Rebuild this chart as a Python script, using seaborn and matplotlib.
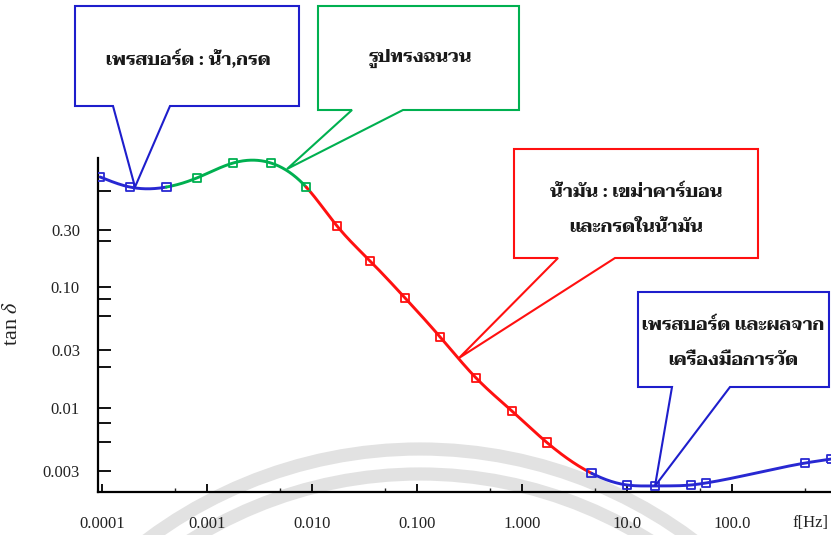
import numpy as np
import pandas as pd
import matplotlib
matplotlib.use("Agg")
import matplotlib.pyplot as plt
import seaborn as sns
from matplotlib.patches import Polygon, Circle
from matplotlib.transforms import Affine2D

# ---- data: dissipation factor versus frequency ----
freq_hz = [0.96e-4, 1.85e-4, 4.1e-4, 8.0e-4, 1.77e-3, 4.07e-3, 8.8e-3,
           0.0173, 0.0357, 0.077, 0.166, 0.365, 0.80, 1.73,
           4.6, 10.0, 18.5, 40.7, 56.5, 495.0, 880.0]
tan_delta = [0.815, 0.673, 0.673, 0.80, 1.063, 1.063, 0.673,
             0.321, 0.165, 0.0815, 0.0388, 0.0178, 0.0095, 0.0052,
             0.0029, 0.00232, 0.00228, 0.00232, 0.00241, 0.00352, 0.0038]
# region of each measured point
region = (["pressboard_low"] * 3 + ["geometry"] * 4 + ["oil"] * 7
          + ["pressboard_high"] * 7)

x_tick_values = [1e-4, 1e-3, 1e-2, 1e-1, 1.0, 10.0, 100.0]
x_tick_labels = ["0.0001", "0.001", "0.010", "0.100", "1.000", "10.0", "100.0"]
x_minor_values = [5e-4, 5e-3, 5e-2, 0.5, 5.0, 50.0, 500.0]
y_tick_values = [0.3, 0.1, 0.03, 0.01, 0.003]
y_tick_labels = ["0.30", "0.10", "0.03", "0.01", "0.003"]
y_minor_values = [0.62, 0.24, 0.08, 0.058, 0.022, 0.0076, 0.0053]

callout_texts = {
    "pressboard_low": ["เพรสบอร์ด : น้ำ,กรด"],
    "geometry": ["รูปทรงฉนวน"],
    "oil": ["น้ำมัน : เขม่าคาร์บอน", "และกรดในน้ำมัน"],
    "pressboard_high": ["เพรสบอร์ด และผลจาก", "เครื่องมือการวัด"],
}

BLUE = "#2828D2"
BOX_BLUE = "#1E1ECC"
GREEN = "#00B050"
RED = "#FF1010"
colors = {"pressboard_low": BLUE, "geometry": GREEN, "oil": RED,
          "pressboard_high": BLUE}

df = pd.DataFrame({"f": freq_hz, "tan": tan_delta, "region": region})

sns.set_style("ticks")
plt.rcParams["font.family"] = ["Liberation Serif", "DejaVu Serif"]
plt.rcParams["mathtext.fontset"] = "stix"

W, H = 831, 535
fig = plt.figure(figsize=(W / 100, H / 100), dpi=100)
fig.patch.set_facecolor("white")
px = Affine2D().scale(1 / W, -1 / H).translate(0, 1) + fig.transFigure

ax = fig.add_axes([98 / W, (H - 492) / H, (W - 98) / W, (492 - 158) / H])
ax.patch.set_alpha(0)
ax.set_xscale("log")
ax.set_yscale("log")
ax.set_xlim(9.16e-5, 877)
ax.set_ylim(0.00203, 1.17)


def natural_spline(xk, yk, xs):
    n = len(xk)
    h = np.diff(xk)
    A = np.zeros((n, n))
    r = np.zeros(n)
    A[0, 0] = A[-1, -1] = 1.0
    for i in range(1, n - 1):
        A[i, i - 1] = h[i - 1]
        A[i, i] = 2 * (h[i - 1] + h[i])
        A[i, i + 1] = h[i]
        r[i] = 6 * ((yk[i + 1] - yk[i]) / h[i] - (yk[i] - yk[i - 1]) / h[i - 1])
    M = np.linalg.solve(A, r)
    idx = np.clip(np.searchsorted(xk, xs) - 1, 0, n - 2)
    x0, x1 = xk[idx], xk[idx + 1]
    hh = x1 - x0
    t0, t1 = x1 - xs, xs - x0
    return (M[idx] * t0 ** 3 / (6 * hh) + M[idx + 1] * t1 ** 3 / (6 * hh)
            + (yk[idx] / hh - M[idx] * hh / 6) * t0
            + (yk[idx + 1] / hh - M[idx + 1] * hh / 6) * t1)


lx = np.log10(df["f"].to_numpy())
ly = np.log10(df["tan"].to_numpy())

# smooth curve, split into coloured stretches between region boundaries
segments = [(0, 2, BLUE), (2, 6, GREEN), (6, 14, RED), (14, 20, BLUE)]
for i0, i1, col in segments:
    xs = np.linspace(lx[i0], lx[i1], 200)
    ys = natural_spline(lx, ly, xs)
    sns.lineplot(x=10 ** xs, y=10 ** ys, color=col, linewidth=2.1,
                 estimator=None, sort=False, ax=ax, zorder=3)

for name, grp in df.groupby("region", sort=False):
    c = colors[name]
    sns.scatterplot(data=grp, x="f", y="tan", marker="s", s=36,
                    color=c, facecolor="none", edgecolor=c, linewidth=1.3,
                    ax=ax, zorder=4, clip_on=True, legend=False)

# axes styling
sns.despine(ax=ax)
for side in ("left", "bottom"):
    ax.spines[side].set_linewidth(1.6)
    ax.spines[side].set_color("black")

ax.set_xticks(x_tick_values)
ax.set_xticklabels(x_tick_labels)
ax.set_xticks(x_minor_values, minor=True)
ax.xaxis.set_minor_formatter(matplotlib.ticker.NullFormatter())
ax.set_yticks(y_tick_values)
ax.set_yticklabels(y_tick_labels)
ax.set_yticks(y_minor_values, minor=True)
ax.yaxis.set_minor_formatter(matplotlib.ticker.NullFormatter())

ax.tick_params(axis="x", which="major", direction="in", length=6, width=1.3,
               pad=17, labelsize=12, colors="black", bottom=True)
ax.tick_params(axis="x", which="minor", direction="in", length=3, width=1.0,
               bottom=True)
ax.tick_params(axis="y", which="both", direction="in", length=9, width=1.3,
               pad=13, labelsize=12, colors="black", left=True)
for lab in ax.get_xticklabels() + ax.get_yticklabels():
    lab.set_color("#222222")

ax.set_xlabel("")
ax.set_ylabel("tan $\\delta$", fontsize=16, color="#222222")
ax.yaxis.set_label_coords(-0.104, 0.505)

fig.text(810, 523, "f[Hz]", transform=px, ha="center", va="center",
         fontsize=12, color="#222222")

# faint emblem arcs in the background
for r in (456, 431):
    fig.add_artist(Circle((420, 905), r, transform=px, fill=False,
                          edgecolor="#e2e2e2", linewidth=9.5, zorder=-5))


# speech-bubble callouts
def callout(L, T, R, B, b1, b2, tip, col, lines, baselines, cx):
    verts = [(L, T), (R, T), (R, B), (b2, B), tip, (b1, B), (L, B)]
    fig.add_artist(Polygon(verts, closed=True, transform=px, facecolor="white",
                           edgecolor=col, linewidth=1.5, zorder=10))
    for txt, yb in zip(lines, baselines):
        fig.text(cx, yb, txt, transform=px, ha="center", va="baseline",
                 fontsize=13, fontweight="bold", color="#1a1a1a",
                 family=["Taviraj", "Noto Serif Thai", "DejaVu Sans"], zorder=11)


callout(75, 6, 299, 106, 113, 170, (135, 187), BOX_BLUE,
        callout_texts["pressboard_low"], [65], 188)
callout(318, 6, 519, 110, 352, 403, (287, 169), GREEN,
        callout_texts["geometry"], [62], 420)
callout(514, 149, 758, 258, 558, 615, (459, 358), RED,
        callout_texts["oil"], [197, 232], 636)
callout(638, 292, 829, 387, 672, 730, (655, 486), BOX_BLUE,
        callout_texts["pressboard_high"], [330, 365], 733)

fig.savefig("out.png", dpi=100)
